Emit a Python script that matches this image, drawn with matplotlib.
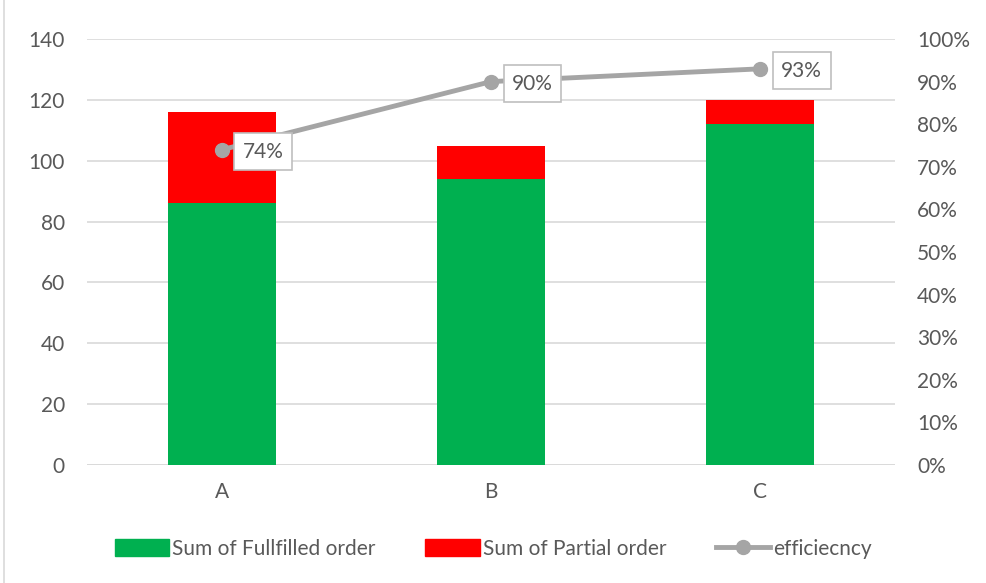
import matplotlib.pyplot as plt
from matplotlib.lines import Line2D
import numpy as np

plt.rcParams['font.family'] = ['Lato', 'DejaVu Sans']

categories = ['A', 'B', 'C']
fulfilled = [86, 94, 112]
partial = [30, 11, 8]
efficiency = [0.74, 0.90, 0.93]

txt = '#595959'
grid = '#D9D9D9'
line_col = '#A5A5A5'

fig = plt.figure(figsize=(9.87, 5.83), dpi=100)
ax = fig.add_axes([87 / 987, 1 - 465 / 583, 808 / 987, 426 / 583])
ax2 = ax.twinx()

x = np.arange(len(categories))
ax.bar(x, fulfilled, width=0.4, color='#00B050', label='Sum of Fullfilled order', zorder=2)
ax.bar(x, partial, width=0.4, bottom=fulfilled, color='#FF0000', label='Sum of Partial order', zorder=2)

ax.set_xlim(-0.5, 2.5)
ax.set_ylim(0, 140)
ax.set_yticks(range(0, 141, 20))
ax.yaxis.grid(True, color=grid, linewidth=1.2)
ax.set_axisbelow(True)
ax.set_xticks(x)
ax.set_xticklabels(categories)
for s in ax.spines.values():
    s.set_visible(False)
for s in ax2.spines.values():
    s.set_visible(False)
ax.axhline(0, color=grid, linewidth=1.2, zorder=1)
ax.tick_params(length=0, colors=txt, labelsize=15)
ax.tick_params(axis='x', pad=12)
ax.tick_params(axis='y', pad=16)

ax2.plot(x, efficiency, color=line_col, linewidth=3.5, marker='o', markersize=10, zorder=3)
ax2.set_ylim(0, 1)
ax2.set_yticks(np.arange(0, 1.01, 0.1))
ax2.set_yticklabels([f'{int(round(v * 100))}%' for v in np.arange(0, 1.01, 0.1)])
ax2.tick_params(length=0, colors=txt, labelsize=15, pad=16)

for xi, e in zip(x, efficiency):
    ax2.annotate(f'{e:.0%}', (xi, e), xytext=(21, -2), textcoords='offset pixels',
                 ha='left', va='center', fontsize=15, color=txt,
                 bbox=dict(boxstyle='square,pad=0.4', fc='white', ec='#BFBFBF', lw=1.2))

handles = [
    plt.Rectangle((0, 0), 1, 1, color='#00B050'),
    plt.Rectangle((0, 0), 1, 1, color='#FF0000'),
    Line2D([0], [0], color=line_col, linewidth=3.5, marker='o', markersize=10),
]
labels = ['Sum of Fullfilled order', 'Sum of Partial order', 'efficiecncy']
fig.legend(handles, labels, loc='center', bbox_to_anchor=(0.5, 1 - 549 / 583), ncol=3,
           frameon=False, fontsize=15, labelcolor=txt, handlelength=2.6,
           handleheight=0.9, handletextpad=0.15, columnspacing=2.4)

fig.add_artist(Line2D([4 / 987, 4 / 987], [0, 1], color=grid, linewidth=1.2))

fig.savefig('out.png', dpi=100)
